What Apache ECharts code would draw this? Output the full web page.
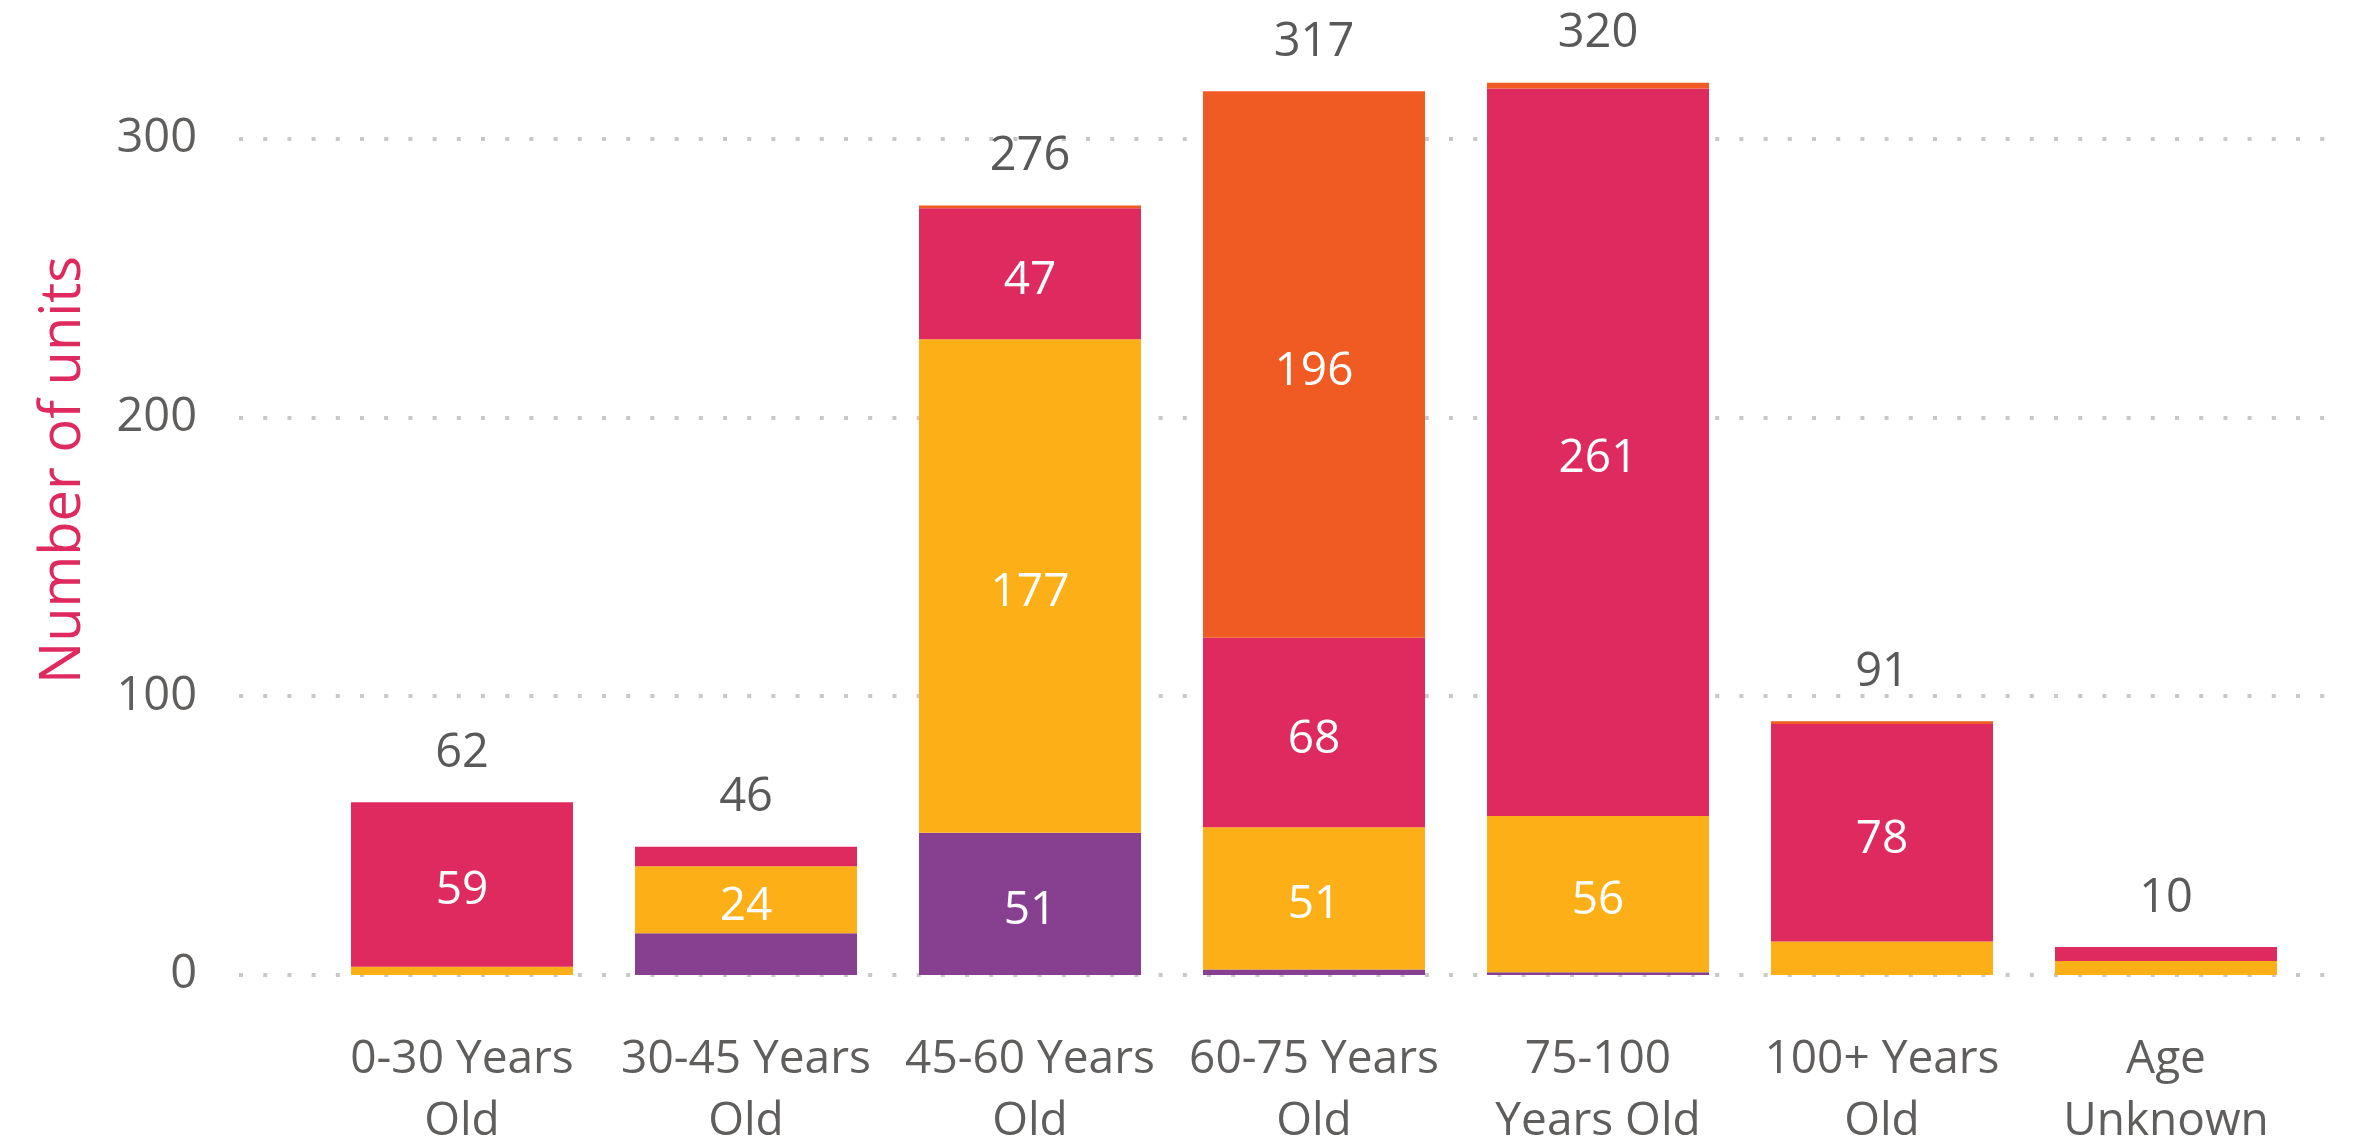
<!DOCTYPE html>
<html>
<head>
<meta charset="utf-8">
<title>Number of units by age</title>
<script src="https://cdn.jsdelivr.net/npm/echarts@6/dist/echarts.min.js"></script>
<style>
  html, body { margin: 0; padding: 0; background: #ffffff; }
  #chart { width: 2362px; height: 1145px; }
</style>
</head>
<body>
<div id="chart"></div>
<script>
// Age bands along the x axis (line breaks as drawn)
const categories = ['0-30 Years\nOld', '30-45 Years\nOld', '45-60 Years\nOld', '60-75 Years\nOld', '75-100\nYears Old', '100+ Years\nOld', 'Age\nUnknown'];

// Stacked segments, bottom to top
const seriesNames = ['Group 1', 'Group 2', 'Group 3', 'Group 4'];
const group1Values = [0, 15, 51, 2, 1, 0, 0];
const group2Values = [3, 24, 177, 51, 56, 12, 5];
const group3Values = [59, 7, 47, 68, 261, 78, 5];
const group4Values = [0, 0, 1, 196, 2, 1, 0];

// Value axis ticks
const yTicks = [0, 100, 200, 300];

const seriesColors = ['#86408f', '#fcaf17', '#de2a5f', '#f05a23'];
const FONT = '"Open Sans", "Noto Sans", sans-serif';
const LABEL_MIN = 20; // segments smaller than this carry no label

const stacks = [group1Values, group2Values, group3Values, group4Values];
const totals = categories.map((_, i) => stacks.reduce((s, arr) => s + arr[i], 0));

const yMin = yTicks[0];
const yMax = yTicks[yTicks.length - 1];
const yInterval = yTicks[1] - yTicks[0];

const TOP = 138.6;
const BOTTOM = 170;

const chart = echarts.init(document.getElementById('chart'), null, { renderer: 'canvas' });

const segmentSeries = stacks.map((values, k) => ({
  name: seriesNames[k],
  type: 'bar',
  stack: 'units',
  xAxisIndex: 1,
  yAxisIndex: 1,
  data: values,
  barWidth: 222,
  clip: false,
  itemStyle: { color: seriesColors[k] },
  label: {
    show: true,
    position: 'inside',
    offset: [0, 7],
    color: '#ffffff',
    fontFamily: FONT,
    fontSize: 46,
    formatter: p => (p.value >= LABEL_MIN ? String(p.value) : '')
  },
  emphasis: { disabled: true }
}));

// Zero-height cap on each stack, carrying the stack total
const totalSeries = {
  name: 'Total',
  type: 'bar',
  stack: 'units',
  xAxisIndex: 1,
  yAxisIndex: 1,
  data: totals.map(() => 0),
  barWidth: 222,
  clip: false,
  itemStyle: { color: 'rgba(0,0,0,0)' },
  label: {
    show: true,
    position: 'top',
    distance: 24,
    color: '#595959',
    fontFamily: FONT,
    fontSize: 47,
    lineHeight: 50,
    formatter: p => String(totals[p.dataIndex])
  },
  emphasis: { disabled: true }
};

chart.setOption({
  animation: false,
  backgroundColor: '#ffffff',
  grid: [
    { left: 239, right: 27, top: TOP, bottom: BOTTOM, containLabel: false, outerBoundsMode: 'none' },
    { left: 320, right: 54, top: TOP, bottom: BOTTOM, containLabel: false, outerBoundsMode: 'none' }
  ],
  xAxis: [
    { type: 'category', gridIndex: 0, data: categories, show: false },
    {
      type: 'category',
      gridIndex: 1,
      data: categories,
      axisLine: { show: false },
      axisTick: { show: false },
      axisLabel: {
        color: '#605e5c',
        fontFamily: FONT,
        fontSize: 46,
        lineHeight: 62,
        margin: 54,
        interval: 0
      }
    }
  ],
  yAxis: [
    {
      type: 'value',
      gridIndex: 0,
      min: yMin,
      max: yMax,
      interval: yInterval,
      axisLine: { show: false },
      axisTick: { show: false },
      axisLabel: {
        color: '#605e5c',
        fontFamily: FONT,
        fontSize: 47,
        margin: 42
      },
      splitLine: {
        show: true,
        lineStyle: { color: '#c8c8c8', width: 4, type: [4, 20.2] }
      }
    },
    {
      type: 'value',
      gridIndex: 1,
      min: yMin,
      max: yMax,
      interval: yInterval,
      show: false,
      splitLine: { show: false }
    }
  ],
  graphic: [
    {
      type: 'text',
      x: 64,
      y: 470,
      rotation: Math.PI / 2,
      style: {
        text: 'Number of units',
        fill: '#de2a5f',
        font: '56px ' + FONT,
        textAlign: 'center',
        textVerticalAlign: 'middle'
      }
    }
  ],
  series: segmentSeries.concat([totalSeries])
});
</script>
</body>
</html>
